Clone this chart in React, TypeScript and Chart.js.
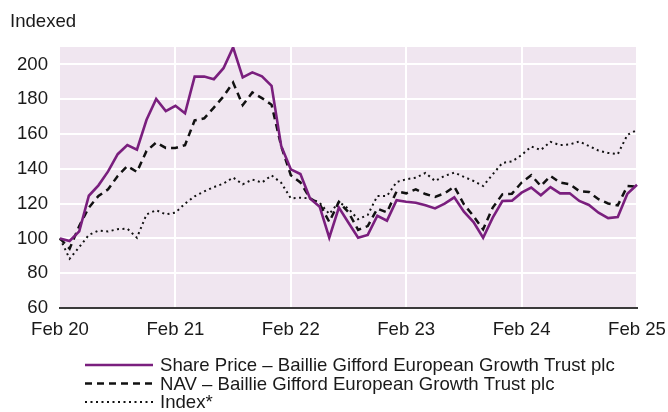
import React, { useEffect, useRef } from "react";
import { Chart, registerables } from "chart.js";

Chart.register(...registerables);

const months = [
  "Feb 20", "Mar 20", "Apr 20", "May 20", "Jun 20", "Jul 20", "Aug 20", "Sep 20", "Oct 20", "Nov 20", "Dec 20", "Jan 21",
  "Feb 21", "Mar 21", "Apr 21", "May 21", "Jun 21", "Jul 21", "Aug 21", "Sep 21", "Oct 21", "Nov 21", "Dec 21", "Jan 22",
  "Feb 22", "Mar 22", "Apr 22", "May 22", "Jun 22", "Jul 22", "Aug 22", "Sep 22", "Oct 22", "Nov 22", "Dec 22", "Jan 23",
  "Feb 23", "Mar 23", "Apr 23", "May 23", "Jun 23", "Jul 23", "Aug 23", "Sep 23", "Oct 23", "Nov 23", "Dec 23", "Jan 24",
  "Feb 24", "Mar 24", "Apr 24", "May 24", "Jun 24", "Jul 24", "Aug 24", "Sep 24", "Oct 24", "Nov 24", "Dec 24", "Jan 25",
  "Feb 25",
];

const sharePrice = [
  100, 98.5, 104, 124.5, 130.5, 138.5, 148.4, 153.6, 151, 168.2, 180.1, 173.2,
  176.2, 171.9, 193, 193, 191.5, 197.8, 209.8, 192.5, 195.4, 193.1, 187.7, 153.1,
  139.7, 137, 123, 118.2, 100.4, 117.7, 109, 100.4, 102, 113, 110.2, 121.9,
  121.1, 120.5, 119, 117.2, 120, 123.6, 115.4, 109.4, 100.4, 111.9, 121.5, 121.7,
  126.3, 129.2, 124.8, 129.5, 125.9, 125.9, 121.5, 119.2, 114.8, 111.7, 112.3, 125.7,
  130.8,
];

const nav = [
  100, 94.1, 107.1, 117.7, 124.4, 128.2, 135.9, 141.6, 138.2, 150.3, 155.1, 152,
  152, 153.6, 167.8, 169, 175.2, 181.6, 189.6, 176.6, 183.9, 180.6, 176.8, 153,
  136.3, 132.2, 123, 119.8, 109.5, 121, 115, 104.9, 107.1, 117.1, 115, 127,
  125.9, 128.2, 125.5, 123.9, 125.9, 129.8, 119.6, 112.8, 105.2, 117.7, 125.3, 125.7,
  132.1, 136.3, 130.1, 135.9, 132.1, 131.1, 127.2, 126.7, 122.5, 120.1, 119, 130.1,
  129.8,
];

const indexSeries = [
  100, 88.3, 95, 102, 104.5, 104, 105.3, 105.6, 100.4, 113.8, 116.2, 113.8,
  114.8, 120, 124.2, 127, 129.5, 131.5, 135, 131.1, 133.8, 132.1, 136.2, 132,
  123, 123.4, 123, 120.5, 114, 121, 117, 111, 113.5, 124.4, 124.4, 132.4,
  134, 134.9, 137.6, 133, 135.9, 137.8, 135.4, 133, 130.1, 136.8, 143.4, 144.2,
  147.9, 152.8, 150.8, 155.5, 153.6, 154, 155.7, 153.1, 150.5, 149.1, 148.4, 159.5,
  162.3,
];

const seriesNames = [
  "Share Price – Baillie Gifford European Growth Trust plc",
  "NAV – Baillie Gifford European Growth Trust plc",
  "Index*",
];

const axisTitle = "Indexed";
const yMin = 60;
const yMax = 210;
const yStep = 20;

const FONT = '"Liberation Sans", Arial, Helvetica, sans-serif';
const FONT_SIZE = 18.6;
const TEXT = "#1a1a1a";
const PURPLE = "#7a1f7e";
const PLOT_BG = "#f0e6f0";

const bgPlugin = {
  id: "plotBg",
  beforeDraw(chart: any) {
    const { ctx, chartArea } = chart;
    ctx.save();
    ctx.fillStyle = PLOT_BG;
    ctx.fillRect(chartArea.left, chartArea.top, chartArea.right - chartArea.left, chartArea.bottom - chartArea.top);
    ctx.restore();
  },
};

const overlayPlugin = {
  id: "overlay",
  afterDraw(chart: any) {
    const { ctx } = chart;
    ctx.save();
    ctx.fillStyle = TEXT;
    ctx.font = `${FONT_SIZE}px ${FONT}`;
    ctx.textBaseline = "alphabetic";
    ctx.textAlign = "left";
    ctx.fillText(axisTitle, 10, 27);

    chart.data.datasets.forEach((ds: any, i: number) => {
      const y = 365 + i * 18.5;
      ctx.save();
      ctx.strokeStyle = ds.borderColor;
      ctx.lineWidth = ds.borderWidth;
      ctx.setLineDash(ds.borderDash || []);
      ctx.lineCap = "butt";
      ctx.beginPath();
      ctx.moveTo(85, y);
      ctx.lineTo(153, y);
      ctx.stroke();
      ctx.restore();
      ctx.fillStyle = TEXT;
      ctx.font = `${FONT_SIZE}px ${FONT}`;
      ctx.textBaseline = "middle";
      ctx.fillText(seriesNames[i], 160, y + 1);
    });
    ctx.restore();
  },
};

export default function App() {
  const ref = useRef<HTMLCanvasElement | null>(null);

  useEffect(() => {
    if (!ref.current) return;
    const chart = new Chart(ref.current, {
      type: "line",
      data: {
        labels: months,
        datasets: [
          {
            label: seriesNames[0],
            data: sharePrice,
            borderColor: PURPLE,
            borderWidth: 2.6,
            pointRadius: 0,
            tension: 0,
            fill: false,
          },
          {
            label: seriesNames[1],
            data: nav,
            borderColor: "#111111",
            borderWidth: 2.5,
            borderDash: [7, 5],
            pointRadius: 0,
            tension: 0,
            fill: false,
          },
          {
            label: seriesNames[2],
            data: indexSeries,
            borderColor: "#111111",
            borderWidth: 2,
            borderDash: [2, 3.5],
            pointRadius: 0,
            tension: 0,
            fill: false,
          },
        ],
      },
      options: {
        responsive: false,
        animation: false,
        devicePixelRatio: 1,
        layout: { padding: { top: 47, right: 31, left: 0, bottom: 0 } },
        plugins: {
          legend: { display: false },
          tooltip: { enabled: false },
          title: { display: false },
        },
        scales: {
          x: {
            type: "category",
            offset: false,
            grid: {
              color: (c: any) => (c.index % 12 === 0 && c.index !== 0 ? "#ffffff" : "rgba(0,0,0,0)"),
              lineWidth: 2,
              drawTicks: false,
            },
            border: { display: true, color: "#3a3a3a", width: 2 },
            ticks: {
              autoSkip: false,
              maxRotation: 0,
              minRotation: 0,
              padding: 11,
              color: TEXT,
              font: { size: FONT_SIZE, family: FONT },
              callback: (_v: any, i: number) => (i % 12 === 0 ? months[i] : ""),
            },
            afterFit: (s: any) => {
              s.height = 104;
              s.paddingLeft = 0;
              s.paddingRight = 0;
            },
          },
          y: {
            min: yMin,
            max: yMax,
            grid: {
              color: (c: any) => (c.tick && c.tick.value === yMin ? "rgba(0,0,0,0)" : "#ffffff"),
              lineWidth: 2,
              drawTicks: false,
            },
            border: { display: false },
            ticks: {
              stepSize: yStep,
              includeBounds: false,
              padding: 12,
              color: TEXT,
              font: { size: FONT_SIZE, family: FONT },
            },
            afterFit: (s: any) => {
              s.width = 60;
              s.paddingTop = 0;
              s.paddingBottom = 0;
            },
          },
        },
      },
      plugins: [bgPlugin, overlayPlugin],
    });
    return () => chart.destroy();
  }, []);

  return (
    <div style={{ position: "fixed", left: 0, top: 0, width: 668, height: 412, background: "#ffffff" }}>
      <canvas ref={ref} width={668} height={412} style={{ display: "block", width: 668, height: 412 }} />
    </div>
  );
}
